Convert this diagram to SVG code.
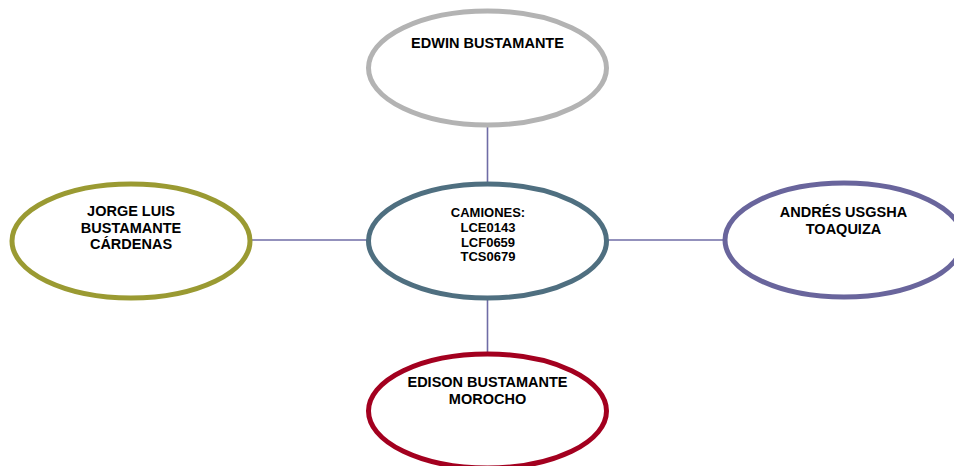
<svg xmlns="http://www.w3.org/2000/svg" width="954" height="466" viewBox="0 0 954 466">
<style>
.node{fill:#ffffff;stroke-width:5}
.t{font-family:"Liberation Sans",Arial,sans-serif;font-weight:bold;font-size:14.5px;fill:#000;text-anchor:middle}
.tc{font-size:13px}
.conn{stroke:#6f6ca6;stroke-width:1.6;fill:none}
</style>
<rect width="954" height="466" fill="#ffffff"/>
<g id="connectors">
<line class="conn" x1="487.5" y1="126" x2="487.5" y2="184"/>
<line class="conn" x1="487.5" y1="297" x2="487.5" y2="356"/>
<line class="conn" x1="250" y1="240" x2="369" y2="240"/>
<line class="conn" x1="606" y1="240" x2="726" y2="240"/>
</g>
<g id="node-top">
<ellipse class="node" cx="487.5" cy="68" rx="119" ry="57" stroke="#b3b3b3"/>
<text class="t" x="487.5" y="48">EDWIN BUSTAMANTE</text>
</g>
<g id="node-center">
<ellipse class="node" cx="487.5" cy="241" rx="119" ry="57" stroke="#4f6f80"/>
<text class="t tc" x="488" y="217">CAMIONES:</text>
<text class="t tc" x="488" y="232">LCE0143</text>
<text class="t tc" x="488" y="246.5">LCF0659</text>
<text class="t tc" x="488" y="261">TCS0679</text>
</g>
<g id="node-left">
<ellipse class="node" cx="131" cy="241" rx="119" ry="57" stroke="#9a9a32"/>
<text class="t" x="131" y="216">JORGE LUIS</text>
<text class="t" x="131" y="232.5">BUSTAMANTE</text>
<text class="t" x="131" y="249">CÁRDENAS</text>
</g>
<g id="node-right">
<ellipse class="node" cx="844" cy="240" rx="119" ry="57" stroke="#69659c"/>
<text class="t" x="843.5" y="217">ANDRÉS USGSHA</text>
<text class="t" x="843.5" y="233.5">TOAQUIZA</text>
</g>
<g id="node-bottom">
<ellipse class="node" cx="487.5" cy="411" rx="119" ry="57" stroke="#a3001f"/>
<text class="t" x="487.5" y="387">EDISON BUSTAMANTE</text>
<text class="t" x="487.5" y="403.5">MOROCHO</text>
</g>
</svg>
